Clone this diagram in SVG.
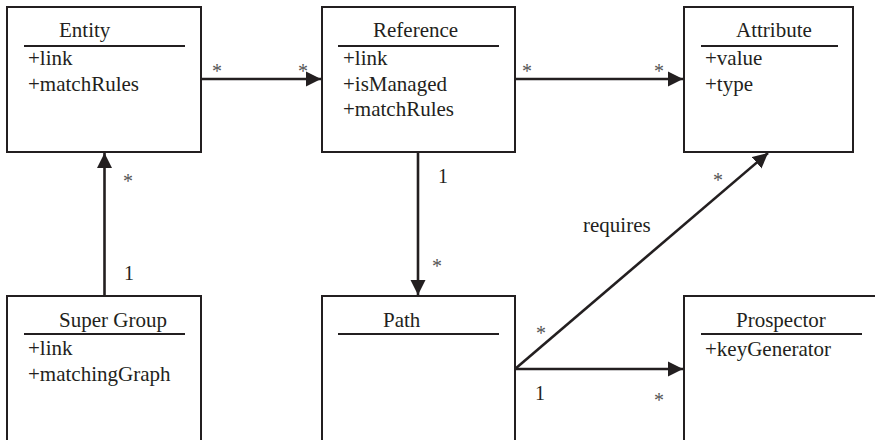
<svg xmlns="http://www.w3.org/2000/svg" width="875" height="440" viewBox="0 0 875 440">
<style>
.box{fill:#fff;stroke:#231f20;stroke-width:2}
.sep{stroke:#231f20;stroke-width:2.2}
.t{font-family:"Liberation Serif","Times New Roman",serif;font-size:21px;fill:#231f20}
.m{font-family:"Liberation Serif","Times New Roman",serif;font-size:20px;fill:#231f20;text-anchor:middle}
.s{font-family:"Liberation Serif","Times New Roman",serif;font-size:20px;fill:#555;text-anchor:middle}
.c{fill:none;stroke:#231f20;stroke-width:2.6}
</style>
<defs>
<marker id="arr" markerUnits="userSpaceOnUse" markerWidth="16" markerHeight="16" viewBox="0 0 16 16" refX="15" refY="8" orient="auto">
<path d="M0,0.5 L15,8 L0,15.5 Z" fill="#231f20"/>
</marker>
</defs>
<rect width="875" height="440" fill="#fff"/>
<g id="entity">
<rect class="box" x="7" y="7" width="194" height="145"/>
<text class="t" x="59" y="37">Entity</text>
<line class="sep" x1="24" y1="46" x2="185" y2="46"/>
<text class="t" x="28" y="65">+link</text>
<text class="t" x="28" y="91">+matchRules</text>
</g>
<g id="reference">
<rect class="box" x="322" y="7" width="193" height="145"/>
<text class="t" x="373" y="37">Reference</text>
<line class="sep" x1="338" y1="46" x2="499" y2="46"/>
<text class="t" x="343" y="65">+link</text>
<text class="t" x="343" y="91">+isManaged</text>
<text class="t" x="343" y="116">+matchRules</text>
</g>
<g id="attribute">
<rect class="box" x="684" y="7" width="169" height="145"/>
<text class="t" x="736" y="37">Attribute</text>
<line class="sep" x1="701" y1="46" x2="838" y2="46"/>
<text class="t" x="705" y="65">+value</text>
<text class="t" x="705" y="91">+type</text>
</g>
<g id="supergroup">
<rect class="box" x="7" y="296" width="194" height="170"/>
<text class="t" x="59" y="327">Super Group</text>
<line class="sep" x1="24" y1="334" x2="185" y2="334"/>
<text class="t" x="28" y="355">+link</text>
<text class="t" x="28" y="381">+matchingGraph</text>
</g>
<g id="path">
<rect class="box" x="322" y="296" width="193" height="170"/>
<text class="t" x="383" y="327">Path</text>
<line class="sep" x1="338" y1="334" x2="499" y2="334"/>
</g>
<g id="prospector">
<rect class="box" x="684" y="296" width="220" height="170"/>
<text class="t" x="736" y="327">Prospector</text>
<line class="sep" x1="701" y1="334" x2="862" y2="334"/>
<text class="t" x="705" y="356">+keyGenerator</text>
</g>
<g id="connectors">
<line class="c" x1="201" y1="79" x2="321" y2="79" marker-end="url(#arr)"/>
<line class="c" x1="515" y1="79" x2="683" y2="79" marker-end="url(#arr)"/>
<line class="c" x1="104.5" y1="296" x2="104.5" y2="153" marker-end="url(#arr)"/>
<line class="c" x1="418" y1="152" x2="418" y2="295" marker-end="url(#arr)"/>
<line class="c" x1="515" y1="369" x2="683" y2="369" marker-end="url(#arr)"/>
<line class="c" x1="515" y1="369" x2="768" y2="153" marker-end="url(#arr)"/>
<text class="s" x="217" y="78">*</text>
<text class="s" x="303" y="78">*</text>
<text class="s" x="527" y="78">*</text>
<text class="s" x="659" y="78">*</text>
<text class="s" x="128" y="188">*</text>
<text class="m" x="129" y="280">1</text>
<text class="m" x="443" y="183">1</text>
<text class="s" x="437" y="273">*</text>
<text class="s" x="541" y="340">*</text>
<text class="s" x="718" y="187">*</text>
<text class="m" x="540" y="400">1</text>
<text class="s" x="659" y="407">*</text>
<text class="t" x="583" y="232">requires</text>
</g>
</svg>
